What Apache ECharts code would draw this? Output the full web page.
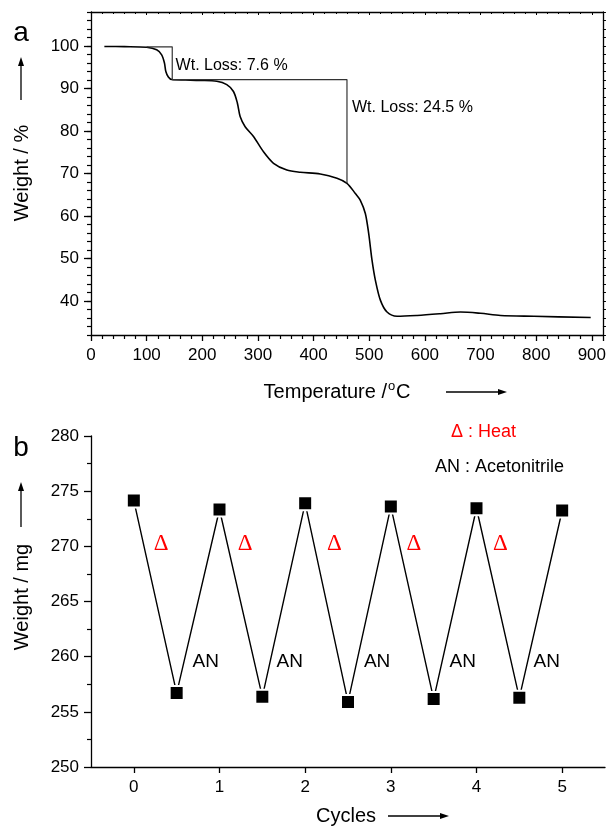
<!DOCTYPE html>
<html>
<head>
<meta charset="utf-8">
<script src="https://cdn.jsdelivr.net/npm/echarts@6/dist/echarts.min.js"></script>
<style>
  html, body { margin: 0; padding: 0; background: #fff; }
  #chart { width: 609px; height: 827px; }
</style>
</head>
<body>
<div id="chart"></div>
<script>
// panel a: TGA curve
var tgaTemp = [24, 60, 100, 118, 127, 132, 134.5, 139, 145, 170, 196, 226, 244, 256, 263, 268, 277, 292, 310, 328, 352, 376, 412, 442, 460, 475, 484, 493, 499, 505, 511, 520, 532, 550, 586, 628, 664, 700, 736, 796, 898];
var tgaWeight = [99.9, 99.85, 99.7, 99.1, 97.9, 96.0, 94.0, 92.7, 92.1, 92.0, 91.9, 91.7, 90.9, 89.3, 86.6, 83.4, 81.0, 78.7, 75.1, 72.4, 70.8, 70.3, 69.9, 68.9, 67.7, 65.3, 63.7, 60.6, 55.9, 49.6, 44.9, 40.2, 37.4, 36.4, 36.6, 37.0, 37.4, 37.1, 36.6, 36.4, 36.1];
var stepTemp = [100, 146, 146, 460, 460];
var stepWeight = [99.8, 99.8, 92.1, 92.1, 67.7];
var lossText = ["Wt. Loss: 7.6 %", "Wt. Loss: 24.5 %"];
var lossAt = [[152, 95.5], [469, 85.5]];
var weightTicks = [40, 50, 60, 70, 80, 90, 100];

// panel b: cycling
var cycles = [0, 0.5, 1, 1.5, 2, 2.5, 3, 3.5, 4, 4.5, 5];
var cycleWeight = [274.15, 256.7, 273.34, 256.36, 273.9, 255.9, 273.6, 256.16, 273.45, 256.27, 273.25];
var cycleTicks = [0, 1, 2, 3, 4, 5];
var heatX = [0.32, 1.3, 2.34, 3.27, 4.28];
var heatY = 270.2;
var anX = [0.84, 1.82, 2.84, 3.84, 4.82];
var anY = 259.5;

var FONT = "Liberation Sans";
var chart = echarts.init(document.getElementById("chart"));

function arrow(x1, y1, x2, y2) {
  // shaft + small filled head pointing to (x2, y2)
  var dx = x2 - x1, dy = y2 - y1, len = Math.sqrt(dx * dx + dy * dy);
  var ux = dx / len, uy = dy / len, hl = 9, hw = 3;
  var bx = x2 - ux * hl, by = y2 - uy * hl;
  return [
    { type: "line", shape: { x1: x1, y1: y1, x2: bx, y2: by }, style: { stroke: "#000", lineWidth: 1.3 } },
    { type: "polygon", shape: { points: [[x2, y2], [bx - uy * hw, by + ux * hw], [bx + uy * hw, by - ux * hw]] }, style: { fill: "#000" } }
  ];
}

function txt(s, x, y, size, align, color, rot) {
  return {
    type: "text", x: x, y: y, rotation: rot || 0,
    style: { text: s, font: size + "px " + FONT, fill: color || "#000", textAlign: align || "center", textVerticalAlign: "middle" }
  };
}

var labelStyle = { color: "#000", fontFamily: FONT, fontSize: 17 };
var plainLabel = { textBorderWidth: 0, textShadowBlur: 0, opacity: 1 };

var option = {
  animation: false,
  backgroundColor: "#fff",
  grid: [
    { left: 91, top: 12, width: 512, height: 323 },
    { left: 91, top: 436, width: 514, height: 331 }
  ],
  xAxis: [
    {
      gridIndex: 0, type: "value", min: 0, max: 920, interval: 100,
      axisLine: { onZero: false, lineStyle: { color: "#000", width: 1.3 } },
      axisTick: { length: 6, lineStyle: { color: "#000", width: 1.3 } },
      minorTick: { show: true, splitNumber: 5, length: 4, lineStyle: { color: "#000", width: 1.2 } },
      axisLabel: Object.assign({ margin: 12, showMaxLabel: false }, labelStyle),
      splitLine: { show: false }
    },
    {
      gridIndex: 0, type: "value", position: "top", min: 0, max: 920, interval: 100,
      axisLine: { onZero: false, lineStyle: { color: "#000", width: 1.3 } },
      axisTick: { inside: true, length: 3, lineStyle: { color: "#000" } },
      minorTick: { show: true, splitNumber: 5, length: 2, lineStyle: { color: "#000" } },
      axisLabel: { show: false }, splitLine: { show: false }
    },
    {
      gridIndex: 1, type: "value", min: -0.5, max: 5.5, interval: 0.5,
      axisLine: { onZero: false, lineStyle: { color: "#000", width: 1.3 } },
      axisTick: { length: 6, customValues: cycleTicks, lineStyle: { color: "#000", width: 1.3 } },
      axisLabel: Object.assign({ margin: 12, customValues: cycleTicks }, labelStyle),
      splitLine: { show: false }
    }
  ],
  yAxis: [
    {
      gridIndex: 0, type: "value", min: 32, max: 108, interval: 2,
      axisLine: { onZero: false, lineStyle: { color: "#000", width: 1.3 } },
      axisTick: { length: 4, lineStyle: { color: "#000", width: 1.2 } },
      axisLabel: { show: false }, splitLine: { show: false }
    },
    {
      gridIndex: 0, type: "value", min: 32, max: 108, position: "left",
      axisLine: { show: false, onZero: false },
      axisTick: { length: 7, customValues: weightTicks, lineStyle: { color: "#000", width: 1.3 } },
      axisLabel: Object.assign({ margin: 12, customValues: weightTicks }, labelStyle),
      splitLine: { show: false }
    },
    {
      gridIndex: 0, type: "value", min: 32, max: 108, interval: 2, position: "right",
      axisLine: { onZero: false, lineStyle: { color: "#000", width: 1.3 } },
      axisTick: { length: 3, lineStyle: { color: "#000" } },
      axisLabel: { show: false }, splitLine: { show: false }
    },
    {
      gridIndex: 1, type: "value", min: 250, max: 280, interval: 5,
      axisLine: { onZero: false, lineStyle: { color: "#000", width: 1.3 } },
      axisTick: { length: 7, lineStyle: { color: "#000", width: 1.3 } },
      minorTick: { show: true, splitNumber: 2, length: 4, lineStyle: { color: "#000", width: 1.2 } },
      axisLabel: Object.assign({ margin: 12 }, labelStyle),
      splitLine: { show: false }
    }
  ],
  series: [
    {
      type: "line", xAxisIndex: 0, yAxisIndex: 0,
      data: tgaTemp.map(function (t, i) { return [t, tgaWeight[i]]; }),
      smooth: 0.3, showSymbol: false,
      lineStyle: { color: "#000", width: 1.6 }
    },
    {
      type: "line", xAxisIndex: 0, yAxisIndex: 0,
      data: stepTemp.map(function (t, i) { return [t, stepWeight[i]]; }),
      showSymbol: false, lineStyle: { color: "#333", width: 1.2 }
    },
    {
      type: "scatter", xAxisIndex: 0, yAxisIndex: 0, symbolSize: 0,
      itemStyle: { opacity: 1 },
      data: lossAt.map(function (p, i) { return { value: p, name: lossText[i] }; }),
      label: Object.assign({
        show: true, position: "inside", align: "left", verticalAlign: "middle",
        formatter: "{b}", color: "#000", fontFamily: FONT, fontSize: 16
      }, plainLabel)
    },
    {
      type: "line", xAxisIndex: 2, yAxisIndex: 3,
      data: cycles.map(function (c, i) { return [c, cycleWeight[i]]; }),
      symbol: "rect", symbolSize: 14,
      itemStyle: { color: "#000", borderColor: "#fff", borderWidth: 2 },
      lineStyle: { color: "#000", width: 1.4 }
    },
    {
      type: "scatter", xAxisIndex: 2, yAxisIndex: 3, symbolSize: 0,
      itemStyle: { opacity: 1 },
      data: heatX.map(function (x) { return [x, heatY]; }),
      label: Object.assign({
        show: true, position: "inside", formatter: "\u0394",
        color: "#ff0000", fontFamily: "Liberation Serif", fontSize: 23
      }, plainLabel)
    },
    {
      type: "scatter", xAxisIndex: 2, yAxisIndex: 3, symbolSize: 0,
      itemStyle: { opacity: 1 },
      data: anX.map(function (x) { return [x, anY]; }),
      label: Object.assign({
        show: true, position: "inside", formatter: "AN",
        color: "#000", fontFamily: FONT, fontSize: 19
      }, plainLabel)
    }
  ],
  graphic: [
    txt("a", 21, 33, 28),
    txt("b", 21, 448, 28),
    txt("Weight / %", 22, 173, 20, "center", "#000", Math.PI / 2),
    txt("Weight / mg", 22, 597, 20, "center", "#000", Math.PI / 2),
    txt("Temperature /", 387, 392, 20, "right"),
    txt("o", 388, 386, 13, "left"),
    txt("C", 396, 392, 20, "left"),
    txt("Cycles", 346, 816, 20),
    txt("\u0394 : Heat", 451, 432, 18, "left", "#ff0000"),
    txt("AN : Acetonitrile", 435, 467, 18, "left")
  ]
    .concat(arrow(21, 100, 21, 57))
    .concat(arrow(21, 527, 21, 482))
    .concat(arrow(446, 392, 507, 392))
    .concat(arrow(388, 816, 449, 816))
};

chart.setOption(option);
</script>
</body>
</html>
